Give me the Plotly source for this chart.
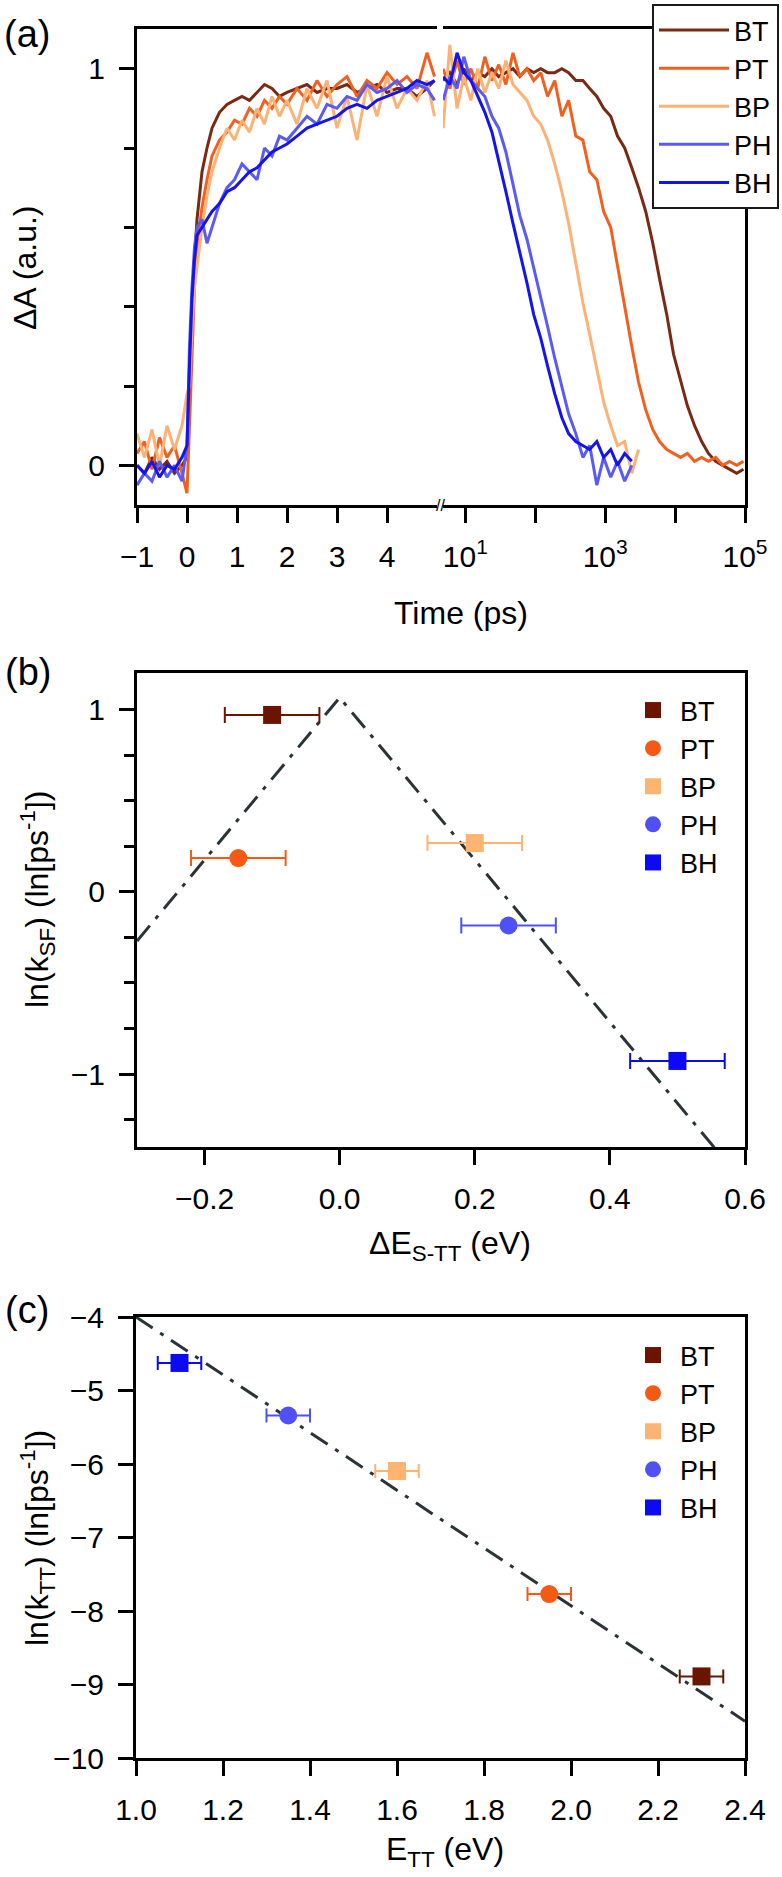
import plotly.graph_objects as go

W, H = 782, 1877

names = ['BT', 'PT', 'BP', 'PH', 'BH']
line_colors = ['#7a2a12', '#f2601f', '#fdb275', '#5a5af5', '#1414ee']
marker_colors = ['#6b1400', '#f55a14', '#fdb470', '#5050f8', '#0a0af5']
symbols = ['square', 'circle', 'square', 'circle', 'square']

# (a) early times, linear axis (ps)
t_early = [-1.0, -0.85, -0.7, -0.55, -0.4, -0.25, -0.1, 0.0, 0.05, 0.1, 0.15, 0.2, 0.3, 0.4,
           0.5, 0.65, 0.8, 0.95, 1.1, 1.25, 1.4, 1.55, 1.7, 1.85, 2.0, 2.2, 2.4, 2.6, 2.8,
           3.0, 3.2, 3.4, 3.6, 3.8, 4.0, 4.2, 4.4, 4.6, 4.8, 4.95]
bt_early = [0.0, -0.02, 0.02, -0.01, 0.01, -0.02, 0.0, 0.02, 0.15, 0.35, 0.52, 0.62, 0.74, 0.8,
            0.85, 0.89, 0.91, 0.92, 0.93, 0.92, 0.94, 0.96, 0.95, 0.93, 0.94, 0.95, 0.96, 0.94,
            0.95, 0.95, 0.96, 0.94, 0.95, 0.96, 0.94, 0.95, 0.95, 0.93, 0.95, 0.97]
pt_early = [0.03, 0.06, -0.01, 0.07, 0.02, 0.05, -0.02, -0.07, 0.1, 0.3, 0.45, 0.55, 0.65, 0.72,
            0.78, 0.82, 0.84, 0.87, 0.86, 0.9, 0.88, 0.92, 0.9, 0.93, 0.91, 0.95, 0.92, 0.97,
            0.93, 0.96, 0.98, 0.93, 0.97, 0.95, 0.99, 0.96, 0.98, 0.95, 1.04, 0.98]
bp_early = [0.08, 0.02, 0.09, 0.0, 0.1, 0.04, 0.1, 0.18, 0.2, 0.35, 0.45, 0.5, 0.6, 0.68,
            0.74, 0.8, 0.85, 0.82, 0.87, 0.84, 0.9, 0.86, 0.93, 0.88, 0.92, 0.86, 0.95, 0.9,
            0.97, 0.85, 0.93, 0.82, 0.96, 0.88, 0.98, 0.9, 0.95, 0.92, 0.97, 0.88]
ph_early = [-0.05, -0.02, -0.04, 0.01, -0.03, 0.0, -0.04, 0.05, 0.3, 0.45, 0.55, 0.6, 0.62, 0.56,
            0.6, 0.66, 0.7, 0.72, 0.76, 0.74, 0.72, 0.8, 0.78, 0.83, 0.82, 0.85, 0.88, 0.86,
            0.91, 0.9, 0.93, 0.92, 0.96, 0.94, 0.95, 0.97, 0.94, 0.96, 0.95, 0.92]
bh_early = [0.0, -0.02, 0.01, -0.03, 0.0, -0.01, 0.02, 0.05, 0.25, 0.42, 0.52, 0.58, 0.6, 0.62,
            0.64, 0.66, 0.69, 0.7, 0.72, 0.74, 0.75, 0.77, 0.79, 0.8, 0.81, 0.83, 0.85, 0.86,
            0.87, 0.88, 0.9, 0.91, 0.9, 0.92, 0.93, 0.94, 0.95, 0.97, 0.96, 0.97]

# (a) late times, log axis (ps)
t_late = [4.8, 6, 7.6, 9.5, 12, 15, 19, 24, 30, 38, 48, 60, 76, 95, 120, 150, 190, 240, 300,
          380, 480, 600, 760, 950, 1200, 1500, 1900, 2400, 3000, 3800, 4800, 6000, 7600, 9500,
          12000, 15000, 19000, 24000, 30000, 38000, 48000, 60000, 76000, 95000]
bt_late = [0.97, 0.99, 0.96, 1.0, 0.97, 0.99, 0.98, 1.0, 0.98, 0.99, 1.0, 0.98, 1.0, 0.99, 1.0,
           0.99, 0.99, 1.0, 0.99, 0.97, 0.97, 0.95, 0.93, 0.9, 0.88, 0.83, 0.8, 0.75, 0.7, 0.64,
           0.56, 0.47, 0.38, 0.28, 0.21, 0.15, 0.1, 0.06, 0.03, 0.01, 0.0, -0.01, -0.02, -0.01]
pt_late = [1.0, 0.95, 1.02, 0.96, 1.0, 0.95, 1.03, 0.97, 1.01, 0.96, 1.04, 0.98, 1.0, 0.97, 0.99,
           0.93, 0.97, 0.88, 0.92, 0.83, 0.82, 0.74, 0.72, 0.64, 0.6, 0.5, 0.4, 0.3, 0.21, 0.14,
           0.09, 0.06, 0.04, 0.03, 0.02, 0.03, 0.01, 0.02, 0.01, 0.02, 0.0, 0.01, 0.0, 0.01]
bp_late = [0.85, 1.06, 0.9, 0.98, 0.92, 1.0, 0.94, 0.99, 0.95, 1.02, 0.96, 0.94, 0.92, 0.88, 0.86,
           0.82, 0.76, 0.69, 0.61, 0.51, 0.41, 0.33, 0.24, 0.16, 0.1, 0.05, 0.06, -0.02, 0.04]
ph_late = [0.92, 0.98, 0.95, 1.03, 0.97, 0.95, 0.93, 0.88, 0.85, 0.79, 0.71, 0.63, 0.57, 0.5, 0.42,
           0.35, 0.27, 0.2, 0.13, 0.08, 0.02, 0.05, -0.05, 0.02, -0.03, 0.01, -0.04, 0.0]
bh_late = [0.98, 0.96, 1.04, 0.99, 0.97, 0.93, 0.89, 0.84, 0.77, 0.69, 0.61, 0.54, 0.46, 0.38, 0.32,
           0.25, 0.18, 0.12, 0.08, 0.06, 0.05, 0.04, 0.06, 0.02, 0.04, 0.0, 0.03, 0.01]

early = [bt_early, pt_early, bp_early, ph_early, bh_early]
late = [bt_late, pt_late, bp_late, ph_late, bh_late]

# (b) singlet fission rate vs driving force
de_stt = [-0.10, -0.15, 0.20, 0.25, 0.50]
de_stt_err = [0.07, 0.07, 0.07, 0.07, 0.07]
ln_ksf = [0.97, 0.185, 0.267, -0.185, -0.928]
fit_b_x = [-0.3, 0.0, 0.6]
fit_b_y = [-0.27, 1.065, -1.605]

# (c) triplet-pair decay rate vs E_TT
e_tt = [2.30, 1.95, 1.60, 1.35, 1.10]
e_tt_err = [0.05, 0.05, 0.05, 0.05, 0.05]
ln_ktt = [-8.89, -7.77, -6.095, -5.34, -4.625]
fit_c_x = [1.0, 2.4]
fit_c_y = [-4.0, -9.5]

FONT = 'Liberation Sans, Arial, sans-serif'
TICK = 30
TITLE = 32
LEG = 27


def px(x):
    return x / W


def py(y):
    return 1 - y / H


fig = go.Figure()

for i, n in enumerate(names):
    fig.add_trace(go.Scatter(x=t_early, y=early[i], mode='lines', name=n, legendgroup=n,
                             showlegend=False, line=dict(color=line_colors[i], width=3),
                             xaxis='x', yaxis='y'))
    fig.add_trace(go.Scatter(x=t_late[:len(late[i])], y=late[i], mode='lines', name=n,
                             legendgroup=n, line=dict(color=line_colors[i], width=3),
                             xaxis='x2', yaxis='y2', legend='legend'))

fig.add_trace(go.Scatter(x=fit_b_x, y=fit_b_y, mode='lines', showlegend=False,
                         line=dict(color='#2a3338', width=3, dash='20px,9px,4px,9px'),
                         xaxis='x3', yaxis='y3'))
for i, n in enumerate(names):
    fig.add_trace(go.Scatter(x=[de_stt[i]], y=[ln_ksf[i]], mode='markers', name=n,
                             marker=dict(symbol=symbols[i], size=18, color=marker_colors[i]),
                             error_x=dict(type='data', array=[de_stt_err[i]], color=marker_colors[i],
                                          thickness=2, width=8),
                             xaxis='x3', yaxis='y3', legend='legend2'))

fig.add_trace(go.Scatter(x=fit_c_x, y=fit_c_y, mode='lines', showlegend=False,
                         line=dict(color='#2a3338', width=3, dash='20px,9px,4px,9px'),
                         xaxis='x4', yaxis='y4'))
for i, n in enumerate(names):
    fig.add_trace(go.Scatter(x=[e_tt[i]], y=[ln_ktt[i]], mode='markers', name=n,
                             marker=dict(symbol=symbols[i], size=18, color=marker_colors[i]),
                             error_x=dict(type='data', array=[e_tt_err[i]], color=marker_colors[i],
                                          thickness=2, width=7),
                             xaxis='x4', yaxis='y4', legend='legend3'))

axis = dict(showline=True, linecolor='black', linewidth=3, ticks='outside', ticklen=15,
            tickwidth=3, tickcolor='black', showgrid=False, zeroline=False,
            ticklabelstandoff=8, automargin=False,
            tickfont=dict(family=FONT, size=TICK, color='black'))
minor_style = dict(ticklen=10, tickwidth=3, ticks='outside', tickcolor='black', tick0=0)
leg_common = dict(xref='container', yref='container', xanchor='left', yanchor='top',
                  tracegroupgap=0, font=dict(family=FONT, size=LEG, color='black'))

fig.update_layout(
    width=W, height=H, margin=dict(l=0, r=0, t=0, b=0, autoexpand=False),
    paper_bgcolor='white', plot_bgcolor='white',
    font=dict(family=FONT, color='black'),
    xaxis=dict(axis, domain=[px(137), px(437)], range=[-1, 5], tickvals=[-1, 0, 1, 2, 3, 4],
               mirror=True, anchor='y'),
    xaxis2=dict(axis, domain=[px(443), px(745)], type='log', range=[0.68, 5],
                tickvals=[10, 100, 1000, 10000, 100000],
                ticktext=['10<sup>1</sup>', '', '10<sup>3</sup>', '', '10<sup>5</sup>'],
                mirror=True, anchor='y2'),
    yaxis=dict(axis, domain=[py(505), py(29)], range=[-0.1, 1.1], tickvals=[0, 1], anchor='x',
               minor=dict(minor_style, dtick=0.2)),
    yaxis2=dict(domain=[py(505), py(29)], range=[-0.1, 1.1], anchor='x2', side='right',
                showline=True, linecolor='black', linewidth=3, showticklabels=False,
                ticks='', showgrid=False, zeroline=False),
    xaxis3=dict(axis, domain=[px(137), px(745)], range=[-0.3, 0.6],
                tickvals=[-0.2, 0.0, 0.2, 0.4, 0.6], tickformat='.1f', mirror=True, anchor='y3'),
    yaxis3=dict(axis, domain=[py(1147), py(673)], range=[-1.4, 1.2], tickvals=[-1, 0, 1],
                mirror=True, anchor='x3', minor=dict(minor_style, dtick=0.25)),
    xaxis4=dict(axis, domain=[px(136), px(745)], range=[1.0, 2.4],
                tickvals=[1.0, 1.2, 1.4, 1.6, 1.8, 2.0, 2.2, 2.4], tickformat='.1f',
                mirror=True, anchor='y4'),
    yaxis4=dict(axis, domain=[py(1758), py(1317)], range=[-10, -4], dtick=1, mirror=True,
                anchor='x4'),
    legend=dict(leg_common, x=px(652), y=py(4), bgcolor='white',
                bordercolor='#1a1a1a', borderwidth=2, itemwidth=70),
    legend2=dict(leg_common, x=px(626), y=py(686), bgcolor='rgba(0,0,0,0)', itemwidth=44),
    legend3=dict(leg_common, x=px(626), y=py(1331), bgcolor='rgba(0,0,0,0)', itemwidth=44),
)

ann = [
    dict(text='(a)', x=px(27), y=py(34), size=38),
    dict(text='(b)', x=px(28), y=py(672), size=38),
    dict(text='(c)', x=px(27), y=py(1310), size=38),
    dict(text='Time (ps)', x=px(461), y=py(613), size=TITLE),
    dict(text='ΔA (a.u.)', x=px(25), y=py(268), size=TITLE, angle=-90),
    dict(text='ΔE<sub>S-TT</sub> (eV)', x=px(450), y=py(1245), size=TITLE),
    dict(text='ln(k<sub>SF</sub>) (ln[ps<sup>-1</sup>])', x=px(37), y=py(900), size=TITLE,
         angle=-90),
    dict(text='E<sub>TT</sub> (eV)', x=px(445), y=py(1851), size=TITLE),
    dict(text='ln(k<sub>TT</sub>) (ln[ps<sup>-1</sup>])', x=px(37), y=py(1538), size=TITLE,
         angle=-90),
    dict(text='//', x=px(440), y=py(505), size=16),
]
fig.update_layout(annotations=[
    dict(text=a['text'], x=a['x'], y=a['y'], xref='paper', yref='paper', showarrow=False,
         xanchor='center', yanchor='middle', textangle=a.get('angle', 0),
         font=dict(family=FONT, size=a['size'], color='black'))
    for a in ann
])

# drop the default 8px page margin so the figure sits at the window origin
fig.write_html("out.html", config={'displayModeBar': False},
               post_script="document.body.style.margin='0';")
